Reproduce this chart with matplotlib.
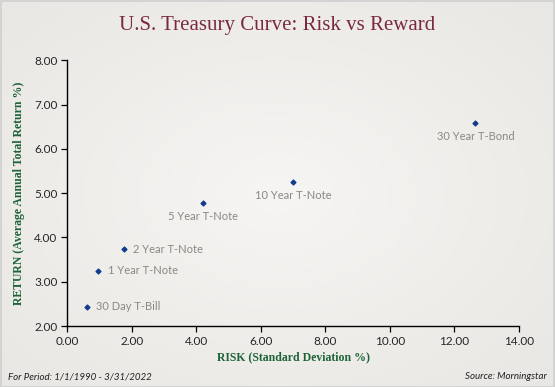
import numpy as np
import matplotlib
matplotlib.use("Agg")
import matplotlib.pyplot as plt

# data
names = ["30 Day T-Bill", "1 Year T-Note", "2 Year T-Note", "5 Year T-Note",
         "10 Year T-Note", "30 Year T-Bond"]
risk = [0.60, 0.96, 1.75, 4.20, 7.01, 12.66]
ret = [2.44, 3.25, 3.73, 4.78, 5.25, 6.58]
label_side = ["right", "right", "right", "below", "below", "below"]

x_ticks = [0, 2, 4, 6, 8, 10, 12, 14]
y_ticks = [2, 3, 4, 5, 6, 7, 8]

fig = plt.figure(figsize=(5.55, 3.87), dpi=100)

# soft radial background like the original slide
bg = fig.add_axes([0, 0, 1, 1], zorder=-10)
yy, xx = np.mgrid[-1:1:200j, -1:1:280j]
r = np.sqrt(xx**2 + yy**2)
bg.imshow(r, cmap=matplotlib.colors.LinearSegmentedColormap.from_list(
    "bgc", ["#f6f5f3", "#e9e7e3"]), aspect="auto", extent=[0, 1, 0, 1],
    vmin=0, vmax=1.4)
bg.set_xlim(0, 1)
bg.set_ylim(0, 1)
bg.axis("off")
bg.add_patch(plt.Rectangle((0.001, 0.001), 0.997, 0.996, fill=False,
                           edgecolor="#cfcfcf", lw=1.2))

ax = fig.add_axes([0.1213, 0.1576, 0.8133, 0.6868])
ax.patch.set_alpha(0)
ax.scatter(risk, ret, marker="D", s=6, color="#123c8c", zorder=3)

for n, x, y, side in zip(names, risk, ret, label_side):
    if side == "right":
        ax.annotate(n, (x, y), xytext=(7, 0), textcoords="offset points",
                    ha="left", va="center", fontsize=8, color="#8c8782",
                    family="Lato")
    else:
        ax.annotate(n, (x, y), xytext=(0, -6), textcoords="offset points",
                    ha="center", va="top", fontsize=8, color="#8c8782",
                    family="Lato")

ax.set_xlim(0, 14)
ax.set_ylim(2, 8)
ax.set_xticks(x_ticks)
ax.set_yticks(y_ticks)
ax.set_xticklabels([f"{v:.2f}" for v in x_ticks], family="Lato", fontsize=8.5, color="#262626")
ax.set_yticklabels([f"{v:.2f}" for v in y_ticks], family="Lato", fontsize=8.5, color="#262626")
ax.tick_params(length=4, width=0.9, color="black", pad=3)
for s in ["top", "right"]:
    ax.spines[s].set_visible(False)
for s in ["left", "bottom"]:
    ax.spines[s].set_linewidth(1.0)

ax.set_xlabel("RISK (Standard Deviation %)", family="Liberation Serif",
              fontweight="bold", fontsize=8.5, color="#1d6337", labelpad=3)
ax.set_ylabel("RETURN (Average Annual Total Return %)", family="Liberation Serif",
              fontweight="bold", fontsize=8.5, color="#1d6337", labelpad=7)

fig.text(0.5, 0.935, "U.S. Treasury Curve: Risk vs Reward", ha="center", va="center",
         family="Liberation Serif", fontsize=15, color="#7a2a3c")
fig.text(0.014, 0.026, "For Period: 1/1/1990 - 3/31/2022", ha="left", va="center",
         family="Lato", style="italic", fontsize=7, color="#222222")
fig.text(0.986, 0.026, "Source: Morningstar", ha="right", va="center",
         family="Lato", style="italic", fontsize=7, color="#222222")

fig.savefig("out.png", dpi=100)
